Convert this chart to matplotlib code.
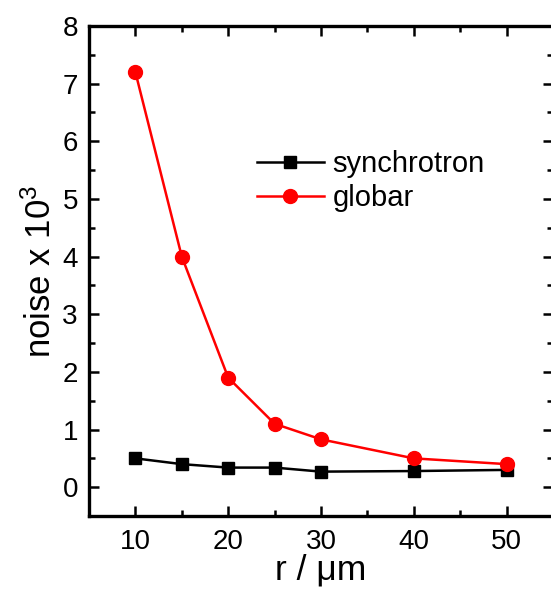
import matplotlib
matplotlib.use('Agg')

import matplotlib.pyplot as plt
from matplotlib.ticker import MultipleLocator

# ============================================================
# DATA
# ============================================================

radius = [10, 15, 20, 25, 30, 40, 50]
noise_synchrotron = [0.50, 0.40, 0.34, 0.34, 0.27, 0.28, 0.30]
noise_globar = [7.2, 4.0, 1.9, 1.1, 0.83, 0.50, 0.40]

# ============================================================
# STYLE
# ============================================================

plt.rcParams['font.family'] = ['Liberation Sans', 'DejaVu Sans']
plt.rcParams['mathtext.default'] = 'regular'

fig = plt.figure(figsize=(5.51, 5.96), dpi=100)
ax = fig.add_axes([0.1615, 0.1342, 0.8421, 0.8222])

ax.plot(radius, noise_synchrotron, color='black', marker='s',
        markersize=9.2, linewidth=1.8, label='synchrotron')
ax.plot(radius, noise_globar, color='red', marker='o',
        markersize=10, linewidth=1.8, label='globar')

ax.set_xlim(5, 55)
ax.set_ylim(-0.5, 8)

ax.xaxis.set_major_locator(MultipleLocator(10))
ax.xaxis.set_minor_locator(MultipleLocator(5))
ax.yaxis.set_major_locator(MultipleLocator(1))
ax.yaxis.set_minor_locator(MultipleLocator(0.5))

ax.tick_params(which='both', direction='in', top=True, right=True,
               width=1.8, labelsize=20)
ax.tick_params(which='major', length=7.5)
ax.tick_params(which='minor', length=4)
ax.tick_params(axis='x', pad=9)
ax.tick_params(axis='y', pad=8)

for spine in ax.spines.values():
    spine.set_linewidth(2.4)

ax.set_xlabel('r / μm', fontsize=25.5, labelpad=-1)
ax.set_ylabel('noise x 10$^3$', fontsize=25, labelpad=3)

ax.legend(loc='upper left', bbox_to_anchor=(0.33, 0.776),
          frameon=False, fontsize=21, handlelength=2.3,
          handletextpad=0.3, labelspacing=0.2, borderpad=0)

fig.savefig('out.png', dpi=100)
